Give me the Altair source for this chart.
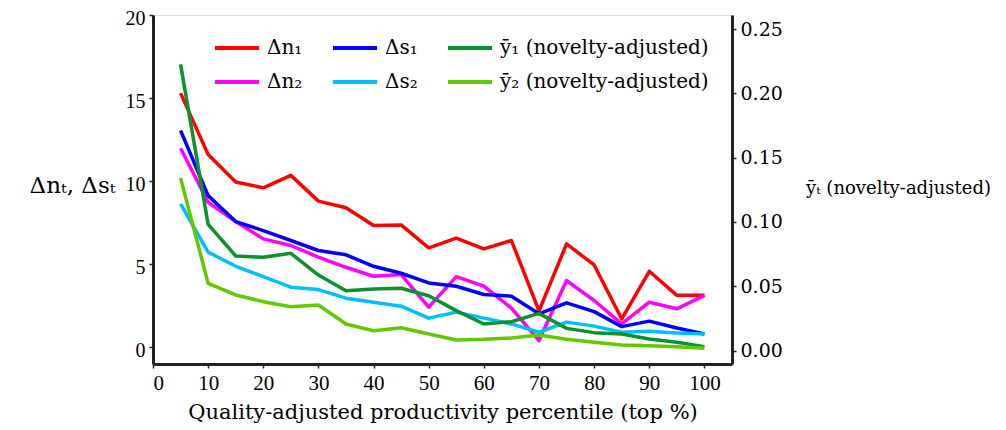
import altair as alt
import pandas as pd

x = [5, 10, 15, 20, 25, 30, 35, 40, 45, 50, 55, 60, 65, 70, 75, 80, 85, 90, 95, 100]
dn1 = [15.3, 11.6, 9.95, 9.6, 10.35, 8.8, 8.4, 7.33, 7.37, 5.99, 6.57, 5.93, 6.43, 2.2, 6.23, 4.96, 1.71, 4.58, 3.13, 3.13]
dn2 = [11.98, 8.73, 7.57, 6.53, 6.13, 5.43, 4.82, 4.28, 4.38, 2.42, 4.26, 3.68, 2.36, 0.41, 4.02, 2.82, 1.41, 2.72, 2.32, 3.13]
ds1 = [13.05, 9.13, 7.57, 7.03, 6.43, 5.83, 5.57, 4.88, 4.46, 3.88, 3.68, 3.18, 3.08, 2.02, 2.68, 2.15, 1.25, 1.58, 1.17, 0.81]
ds2 = [8.63, 5.73, 4.88, 4.26, 3.62, 3.48, 2.96, 2.72, 2.48, 1.76, 2.12, 1.76, 1.41, 0.91, 1.52, 1.28, 0.91, 0.97, 0.87, 0.81]
y1 = [0.2226, 0.0981, 0.0735, 0.0725, 0.0756, 0.0587, 0.0465, 0.0478, 0.0484, 0.0426, 0.031, 0.0206, 0.0224, 0.0289, 0.0172, 0.0139, 0.0128, 0.0089, 0.0064, 0.003]
y2 = [0.1341, 0.0522, 0.0432, 0.038, 0.0341, 0.0354, 0.0206, 0.0154, 0.0177, 0.0128, 0.0082, 0.0087, 0.0097, 0.0121, 0.0087, 0.0064, 0.0043, 0.0037, 0.003, 0.0017]

# legend fills column by column: (Δn₁, Δn₂), (Δs₁, Δs₂), (ȳ₁, ȳ₂)
names = ["Δn₁", "Δn₂", "Δs₁", "Δs₂", "ȳ₁ (novelty-adjusted)", "ȳ₂ (novelty-adjusted)"]
colors = ["#ff0000", "#ff00ff", "#0000ff", "#00bfff", "#0c9130", "#64c800"]

left_rows = []
for name, vals in [(names[0], dn1), (names[1], dn2), (names[2], ds1), (names[3], ds2)]:
    for xi, v in zip(x, vals):
        left_rows.append({"x": xi, "v": v, "series": name})
right_rows = []
for name, vals in [(names[4], y1), (names[5], y2)]:
    for xi, v in zip(x, vals):
        right_rows.append({"x": xi, "v": v, "series": name})
left_df = pd.DataFrame(left_rows)
right_df = pd.DataFrame(right_rows)

AX = "#222222"

legend = alt.Legend(
    title=None, orient="none", legendX=60, legendY=9, columns=3,
    symbolType="stroke", symbolSize=1936, symbolStrokeWidth=4,
    labelFont="DejaVu Serif", labelFontSize=20,
    labelColor="#000000", labelOffset=6, columnPadding=22, rowPadding=-3,
    labelLimit=400, padding=0,
)
color = alt.Color("series:N", scale=alt.Scale(domain=names, range=colors), legend=legend)

xenc = alt.X(
    "x:Q",
    scale=alt.Scale(domain=[0, 105], nice=False, zero=False),
    axis=alt.Axis(
        values=list(range(0, 101, 10)), grid=False, domainColor=AX, domainWidth=3,
        tickColor=AX, tickSize=4, tickWidth=1.5, labelFont="Liberation Serif",
        labelFontSize=21, labelColor="#000000", labelPadding=4,
        title="Quality-adjusted productivity percentile (top %)",
        titleFont="DejaVu Serif", titleFontSize=21, titleFontWeight="normal",
        titleColor="#000000", titleY=48, titleBaseline="middle",
    ),
)

left = alt.Chart(left_df).mark_line(strokeWidth=3.5, strokeJoin="round").encode(
    x=xenc,
    y=alt.Y(
        "v:Q",
        scale=alt.Scale(domain=[-1, 20], nice=False, zero=False),
        axis=alt.Axis(
            orient="left", values=[0, 5, 10, 15, 20], grid=False, domainColor=AX,
            domainWidth=3, tickColor=AX, tickSize=4, tickWidth=1.5,
            labelFont="Liberation Serif", labelFontSize=20, labelColor="#000000",
            labelPadding=4, labelOffset=3,
            title="Δnₜ, Δsₜ", titleAngle=0, titleX=-81, titleY=170,
            titleAlign="center", titleBaseline="middle", titleFont="DejaVu Serif",
            titleFontSize=23, titleFontWeight="normal", titleColor="#000000",
        ),
    ),
    color=color,
)

right = alt.Chart(right_df).mark_line(strokeWidth=3.5, strokeJoin="round").encode(
    x=xenc,
    y=alt.Y(
        "v:Q",
        scale=alt.Scale(domain=[-0.0105, 0.261], nice=False, zero=False),
        axis=alt.Axis(
            orient="right", values=[0, 0.05, 0.1, 0.15, 0.2, 0.25], format=".2f",
            grid=False, domainColor=AX, domainWidth=3, tickColor=AX, tickSize=4,
            tickWidth=1.5, labelFont="DejaVu Serif", labelFontSize=19,
            labelColor="#000000", labelPadding=4,
            title="ȳₜ (novelty-adjusted)", titleAngle=0, titleX=166, titleY=173,
            titleAlign="center", titleBaseline="middle", titleFont="DejaVu Serif",
            titleFontSize=18, titleFontWeight="normal", titleColor="#000000",
        ),
    ),
    color=color,
)

chart = alt.layer(left, right).resolve_scale(y="independent").properties(
    width=579, height=349,
    autosize=alt.AutoSizeParams(type="none"),
    padding={"left": 145, "top": 7, "right": 266, "bottom": 64},
).configure_view(stroke=None).configure(background="white")

chart.save("out.html", embed_options={"renderer": "svg", "actions": False})
